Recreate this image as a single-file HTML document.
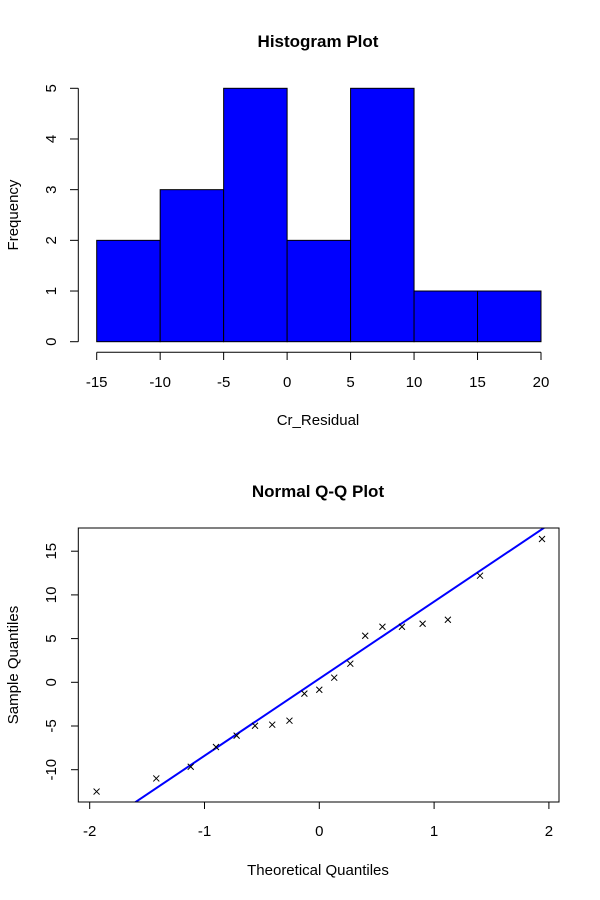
<!DOCTYPE html>
<html><head><meta charset="utf-8"><style>
body{margin:0;background:#fff}
svg{display:block;font-family:"Liberation Sans",Arial,sans-serif}
</style></head><body>
<svg id="c" width="600" height="900" viewBox="0 0 600 900"></svg>
<script>
const binEdges=[-15,-10,-5,0,5,10,15,20];
const binCounts=[2,3,5,2,5,1,1];
const histXTicks=[-15,-10,-5,0,5,10,15,20];
const histYTicks=[0,1,2,3,4,5];
const theoQ=[-1.94,-1.42,-1.12,-0.90,-0.72,-0.56,-0.41,-0.26,-0.13,0,0.13,0.27,0.40,0.55,0.72,0.90,1.12,1.40,1.94];
const sampleQ=[-12.5,-11.0,-9.66,-7.4,-6.1,-4.97,-4.85,-4.39,-1.3,-0.85,0.53,2.13,5.33,6.36,6.36,6.70,7.16,12.2,16.4];
const qqXTicks=[-2,-1,0,1,2];
const qqYTicks=[-10,-5,0,5,10,15];

const svg=document.getElementById('c');
const NS='http://www.w3.org/2000/svg';
function mk(t,a,txt){const e=document.createElementNS(NS,t);for(const k in a)e.setAttribute(k,a[k]);if(txt!==undefined)e.textContent=txt;svg.appendChild(e);return e;}

// Histogram
const hx=v=>96.7+(v+15)*(444.3/35);
const hy=v=>341.7-v*(253.4/5);
let e;
e=mk('text',{x:318,y:47,'text-anchor':'middle','font-size':17,'font-weight':'bold'},'Histogram Plot');

for(let i=0;i<binCounts.length;i++){
  e=mk('rect',{x:hx(binEdges[i]),y:hy(binCounts[i]),width:hx(binEdges[i+1])-hx(binEdges[i]),height:hy(0)-hy(binCounts[i]),fill:'#0000ff',stroke:'#000','stroke-width':1});
  
}
e=mk('line',{x1:hx(-15),x2:hx(20),y1:352.3,y2:352.3,stroke:'#000'});

histXTicks.forEach(t=>{
  mk('line',{x1:hx(t),x2:hx(t),y1:352.3,y2:360,stroke:'#000'});
  e=mk('text',{x:hx(t),y:387,'text-anchor':'middle','font-size':15},String(t));
  
});
e=mk('line',{x1:78.3,x2:78.3,y1:hy(0),y2:hy(5),stroke:'#000'});

histYTicks.forEach(t=>{
  mk('line',{x1:70,x2:78.3,y1:hy(t),y2:hy(t),stroke:'#000'});
  e=mk('text',{x:0,y:0,'text-anchor':'middle','font-size':15,transform:`translate(56,${hy(t)}) rotate(-90)`},String(t));
  
});
e=mk('text',{x:318,y:425,'text-anchor':'middle','font-size':15},'Cr_Residual');

e=mk('text',{x:0,y:0,'text-anchor':'middle','font-size':15,transform:'translate(18,215) rotate(-90)'},'Frequency');


// QQ plot
const qx=v=>319.3+v*114.8;
const qy=v=>682.3-v*8.74;
e=mk('text',{x:318,y:497,'text-anchor':'middle','font-size':17,'font-weight':'bold'},'Normal Q-Q Plot');

mk('defs',{}).innerHTML='<clipPath id="qc"><rect x="78.3" y="528" width="480.7" height="274"/></clipPath>';
// qqline via quartiles
const s=[...sampleQ].sort((a,b)=>a-b);
function q(p){const h=(s.length-1)*p;const lo=Math.floor(h);return s[lo]+(h-lo)*(s[Math.min(lo+1,s.length-1)]-s[lo]);}
const q1=q(0.25),q3=q(0.75),z=0.6744898;
const slope=(q3-q1)/(2*z),inter=q1+slope*z;
e=mk('line',{x1:qx(-3),y1:qy(inter-3*slope),x2:qx(3),y2:qy(inter+3*slope),stroke:'#0000ff','stroke-width':2,'clip-path':'url(#qc)'});

theoQ.forEach((t,i)=>{
  const cx=qx(t),cy=qy(sampleQ[i]),r=3;
  e=mk('path',{d:`M${cx-r},${cy-r}L${cx+r},${cy+r}M${cx-r},${cy+r}L${cx+r},${cy-r}`,stroke:'#000','stroke-width':1,fill:'none'});
  
});
e=mk('rect',{x:78.3,y:528,width:480.7,height:274,fill:'none',stroke:'#000'});

qqXTicks.forEach(t=>{
  mk('line',{x1:qx(t),x2:qx(t),y1:802,y2:809,stroke:'#000'});
  e=mk('text',{x:qx(t),y:836,'text-anchor':'middle','font-size':15},String(t));
  
});
qqYTicks.forEach(t=>{
  mk('line',{x1:71,x2:78.3,y1:qy(t),y2:qy(t),stroke:'#000'});
  e=mk('text',{x:0,y:0,'text-anchor':'middle','font-size':15,transform:`translate(56,${qy(t)}) rotate(-90)`},String(t));
  
});
e=mk('text',{x:318,y:875,'text-anchor':'middle','font-size':15},'Theoretical Quantiles');

e=mk('text',{x:0,y:0,'text-anchor':'middle','font-size':15,transform:'translate(18,665) rotate(-90)'},'Sample Quantiles');

</script>
</body></html>
